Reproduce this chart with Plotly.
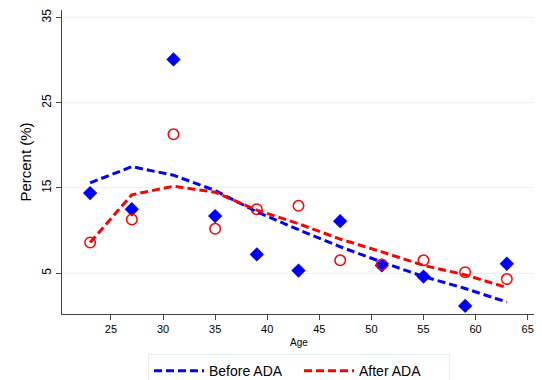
import plotly.graph_objects as go

age = [23, 27, 31, 35, 39, 43, 47, 51, 55, 59, 63]
before_pts = [14.4, 12.5, 30.1, 11.7, 7.2, 5.3, 11.1, 5.9, 4.6, 1.15, 6.1]
after_pts = [8.6, 11.3, 21.3, 10.2, 12.5, 12.9, 6.5, 6.0, 6.5, 5.1, 4.3]
before_fit = [15.6, 17.5, 16.5, 14.7, 12.2, 10.1, 8.1, 6.3, 4.6, 3.2, 1.6]
after_fit = [8.6, 14.2, 15.2, 14.5, 12.4, 10.8, 9.0, 7.5, 5.9, 4.8, 3.3]
x_ticks = [25, 30, 35, 40, 45, 50, 55, 60, 65]
y_ticks = [5, 15, 25, 35]

BLUE = "#0000ff"
RED = "#ff0000"

fig = go.Figure()
fig.add_trace(go.Scatter(x=age, y=before_pts, mode="markers",
                         marker=dict(symbol="diamond", size=11, color=BLUE),
                         showlegend=False, cliponaxis=False))
fig.add_trace(go.Scatter(x=age, y=after_pts, mode="markers",
                         marker=dict(symbol="circle-open", size=10.5, color=RED,
                                     line=dict(width=1.5, color=RED)),
                         showlegend=False, cliponaxis=False))
fig.add_trace(go.Scatter(x=age, y=before_fit, mode="lines", name="Before ADA",
                         line=dict(color=BLUE, width=3, dash="8px,4px")))
fig.add_trace(go.Scatter(x=age, y=after_fit, mode="lines", name="After ADA",
                         line=dict(color=RED, width=3, dash="8px,4px")))

# page has an 8px body margin, so the figure is sized to the remaining area
fig.update_layout(
    width=534, height=372,
    margin=dict(l=54, r=6, t=2, b=66, autoexpand=False),
    paper_bgcolor="white", plot_bgcolor="white",
    font=dict(family="Liberation Sans, Arial, sans-serif", color="#000000", size=11),
    legend=dict(orientation="h", x=0.5, xanchor="center", y=-0.132, yanchor="top",
                bordercolor="#e3ecee", borderwidth=1, font=dict(size=14),
                itemwidth=50, entrywidth=85, tracegroupgap=0),
    xaxis=dict(range=[20.3, 65.8], tickvals=x_ticks, ticks="outside", ticklen=5,
               tickcolor="#444444", showline=True, linecolor="#444444", linewidth=1,
               showgrid=False, zeroline=False, automargin=False,
               title=dict(text="Age", font=dict(size=10), standoff=4),
               tickfont=dict(size=11)),
    yaxis=dict(range=[0.2, 35.9], tickvals=y_ticks, ticks="outside", ticklen=5,
               tickcolor="#444444", showline=True, linecolor="#444444", linewidth=1,
               showgrid=True, gridcolor="#eaf2f2", gridwidth=1, zeroline=False,
               automargin=False, tickangle=-90, tickfont=dict(size=12),
               title=dict(text="Percent (%)", font=dict(size=15), standoff=4)),
)

fig.write_html("out.html")
